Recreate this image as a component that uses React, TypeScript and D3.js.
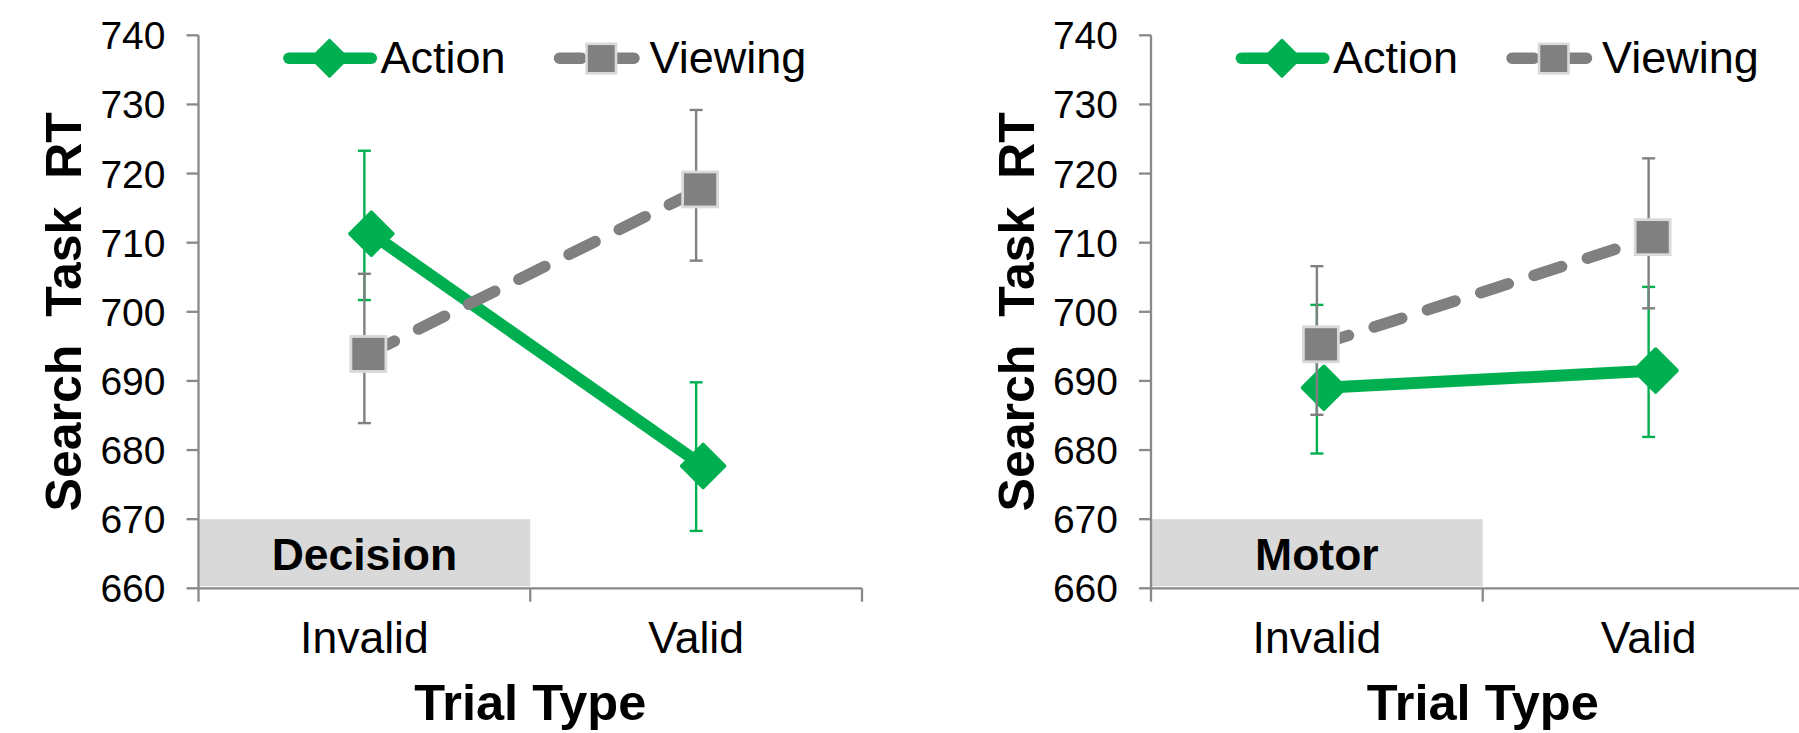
import React, { useEffect } from "react";
import * as d3 from "d3";

// ---- data ----
const categories = ["Invalid", "Valid"];
const yTicks = [660, 670, 680, 690, 700, 710, 720, 730, 740];
const panelTitles = ["Decision", "Motor"];
const seriesNames = ["Action", "Viewing"];

// per panel: [Invalid, Valid]
const actionMeans = [[711.3, 677.7], [689.0, 691.5]];
const actionUpper = [[723.3, 689.8], [701.0, 703.6]];
const actionLower = [[701.7, 668.3], [679.5, 681.9]];
const viewingMeans = [[693.9, 717.7], [695.3, 710.8]];
const viewingUpper = [[705.5, 729.2], [706.6, 722.2]];
const viewingLower = [[683.9, 707.4], [685.1, 700.5]];
const boxTop = 670;

// ---- layout / style ----
const W = 1799;
const H = 733;
const panelLefts = [198.5, 1151];
const plotW = 663.5;
const plotTop = 35.3;
const plotBottom = 588.3;
const GREEN = "#00b050";
const GREY = "#808080";
const AXIS = "#898989";
const FONT = "'Liberation Sans', Arial, sans-serif";

const y = d3.scaleLinear().domain([660, 740]).range([plotBottom, plotTop]);

function diamondPath(cx: number, cy: number, r: number) {
  return `M${cx},${cy - r}L${cx + r},${cy}L${cx},${cy + r}L${cx - r},${cy}Z`;
}

function Panel({ idx }: { idx: number }) {
  const left = panelLefts[idx];
  const x = d3.scaleBand<string>().domain(categories).range([left, left + plotW]).padding(0);
  const cx = (c: string) => (x(c) as number) + x.bandwidth() / 2;
  const line = d3
    .line<number>()
    .x((_, i) => cx(categories[i]))
    .y((v) => y(v));
  const aOff = 7;
  const vOff = 4;
  const aMeans = actionMeans[idx];
  const vMeans = viewingMeans[idx];

  const errBar = (c: string, lo: number, hi: number, color: string, key: string) => {
    const px = cx(c);
    return (
      <g key={key} stroke={color} strokeWidth={2.4}>
        <line x1={px} x2={px} y1={y(hi)} y2={y(lo)} />
        <line x1={px - 6.5} x2={px + 6.5} y1={y(hi)} y2={y(hi)} />
        <line x1={px - 6.5} x2={px + 6.5} y1={y(lo)} y2={y(lo)} />
      </g>
    );
  };

  const centerX = left + plotW / 2;
  const centerY = (plotTop + plotBottom) / 2;

  return (
    <g>
      {/* label box */}
      <rect
        x={left + 1}
        y={y(boxTop)}
        width={x.bandwidth() - 1}
        height={y(660) - y(boxTop) - 2}
        fill="#d9d9d9"
      />
      <text
        x={cx(categories[0])}
        y={569.7}
        textAnchor="middle"
        fontFamily={FONT}
        fontWeight="bold"
        fontSize={44.5}
        fill="#000"
      >
        {panelTitles[idx]}
      </text>

      {/* axes */}
      <line x1={left} x2={left} y1={plotTop} y2={plotBottom} stroke={AXIS} strokeWidth={2.3} />
      {yTicks.map((t) => (
        <g key={t}>
          <line x1={left - 12} x2={left} y1={y(t)} y2={y(t)} stroke={AXIS} strokeWidth={2.3} />
          <text
            x={left - 33}
            y={y(t) + 14}
            textAnchor="end"
            fontFamily={FONT}
            fontSize={39}
            fill="#000"
          >
            {t}
          </text>
        </g>
      ))}
      <line x1={left} x2={left + plotW} y1={plotBottom} y2={plotBottom} stroke={AXIS} strokeWidth={2.3} />
      {[...categories.map((c) => x(c) as number), left + plotW].map((t, i) => (
        <line key={i} x1={t} x2={t} y1={plotBottom} y2={plotBottom + 13.4} stroke={AXIS} strokeWidth={2.3} />
      ))}
      {categories.map((c) => (
        <text key={c} x={cx(c)} y={653} textAnchor="middle" fontFamily={FONT} fontSize={44.5} fill="#000">
          {c}
        </text>
      ))}
      <text x={centerX} y={720} textAnchor="middle" fontFamily={FONT} fontWeight="bold" fontSize={50.5} fill="#000">
        Trial Type
      </text>
      <text
        transform={`translate(${left - 117.5},${centerY}) rotate(-90)`}
        textAnchor="middle"
        fontFamily={FONT}
        fontWeight="bold"
        fontSize={50}
        fill="#000"
        style={{ whiteSpace: "pre" }}
      >
        Search  Task  RT
      </text>

      {/* Action series */}
      <path
        d={line(aMeans) as string}
        transform={`translate(${aOff},0)`}
        fill="none"
        stroke={GREEN}
        strokeWidth={12}
        strokeLinecap="round"
      />
      {categories.map((c, i) => errBar(c, actionLower[idx][i], actionUpper[idx][i], GREEN, "ae" + i))}
      {categories.map((c, i) => (
        <path
          key={"am" + i}
          d={diamondPath(cx(c) + aOff, y(aMeans[i]), 21.5)}
          fill={GREEN}
          stroke={GREEN}
          strokeWidth={3.5}
          strokeLinejoin="round"
        />
      ))}

      {/* Viewing series */}
      <path
        d={line(vMeans) as string}
        transform={`translate(${vOff},0)`}
        fill="none"
        stroke={GREY}
        strokeWidth={11.5}
        strokeLinecap="round"
        strokeDasharray="29 27"
      />
      {categories.map((c, i) => errBar(c, viewingLower[idx][i], viewingUpper[idx][i], GREY, "ve" + i))}
      {categories.map((c, i) => (
        <rect
          key={"vm" + i}
          x={cx(c) + vOff - 17.5}
          y={y(vMeans[i]) - 17.5}
          width={35}
          height={35}
          fill={GREY}
          stroke="#d9d9d9"
          strokeWidth={2.8}
        />
      ))}

      {/* legend */}
      <g>
        <line x1={left + 90.4} x2={left + 172.8} y1={58.3} y2={58.3} stroke={GREEN} strokeWidth={11.5} strokeLinecap="round" />
        <path d={diamondPath(left + 131, 58.3, 18)} fill={GREEN} stroke={GREEN} strokeWidth={3} strokeLinejoin="round" />
        <text x={left + 182} y={72.5} fontFamily={FONT} fontSize={45} fill="#000">
          {seriesNames[0]}
        </text>
        <line
          x1={left + 361}
          x2={left + 435.5}
          y1={58.3}
          y2={58.3}
          stroke={GREY}
          strokeWidth={11.5}
          strokeLinecap="round"
          strokeDasharray="22 31"
        />
        <rect x={left + 388} y={43.8} width={29.5} height={29.5} fill={GREY} stroke="#d9d9d9" strokeWidth={2.6} />
        <text x={left + 451} y={72.5} fontFamily={FONT} fontSize={45} fill="#000">
          {seriesNames[1]}
        </text>
      </g>
    </g>
  );
}

export default function App() {
  useEffect(() => {
    document.body.style.margin = "0";
  }, []);
  return (
    <svg width={W} height={H} viewBox={`0 0 ${W} ${H}`} style={{ display: "block", background: "#fff" }}>
      <rect x={0} y={0} width={W} height={H} fill="#fff" />
      {panelTitles.map((_, i) => (
        <Panel key={i} idx={i} />
      ))}
    </svg>
  );
}
